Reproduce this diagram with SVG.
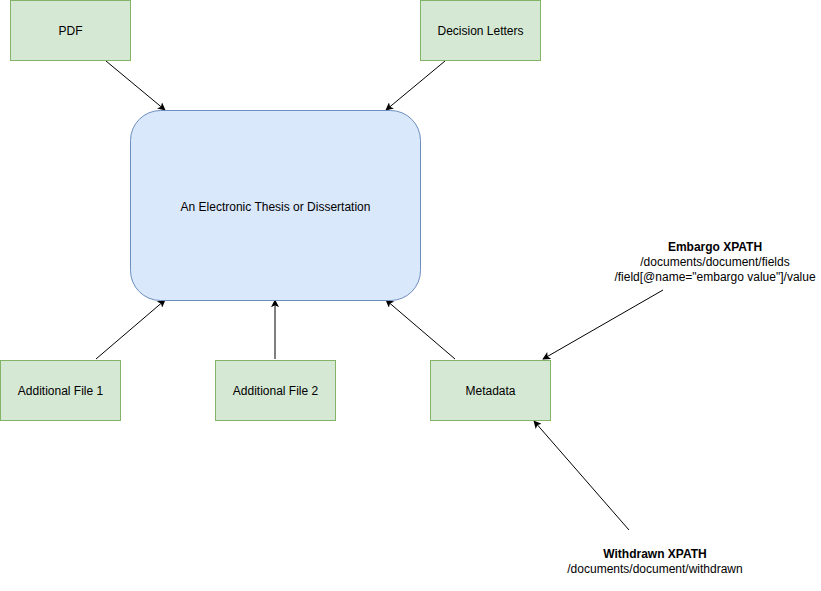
<svg xmlns="http://www.w3.org/2000/svg" width="821" height="591" viewBox="0 0 821 591">
<defs>
<style>
.g{fill:#d5e8d4;stroke:#82b366;stroke-width:1}
.b{fill:#dae8fc;stroke:#6c8ebf;stroke-width:1}
text{font-family:"Liberation Sans",Arial,sans-serif;font-size:12px;fill:#000;text-anchor:middle}
.bold{font-weight:bold}
.e{stroke:#000;stroke-width:1;fill:none;marker-end:url(#arr)}
</style>
<marker id="arr" viewBox="0 0 10 10" refX="9" refY="5" markerWidth="8" markerHeight="8" markerUnits="userSpaceOnUse" orient="auto">
<path d="M0,0 L10,5 L0,10 L2.5,5 Z" fill="#000"/>
</marker>
</defs>
<rect width="821" height="591" fill="#fff"/>
<g id="connectors">
<line class="e" x1="106" y1="61" x2="165" y2="110"/>
<line class="e" x1="445" y1="61" x2="386" y2="110"/>
<line class="e" x1="96" y1="359" x2="165" y2="300"/>
<line class="e" x1="275" y1="359" x2="275" y2="300"/>
<line class="e" x1="455" y1="359" x2="386" y2="300"/>
<line class="e" x1="663" y1="290" x2="543" y2="359"/>
<line class="e" x1="629" y1="530" x2="534" y2="421"/>
</g>
<g id="thesis">
<rect class="b" x="130.5" y="110.5" width="290" height="190" rx="30" ry="30"/>
<text x="275.5" y="211">An Electronic Thesis or Dissertation</text>
</g>
<g id="pdf">
<rect class="g" x="10.5" y="0.5" width="120" height="60"/>
<text x="70.5" y="35">PDF</text>
</g>
<g id="decision">
<rect class="g" x="420.5" y="0.5" width="120" height="60"/>
<text x="480.5" y="35">Decision Letters</text>
</g>
<g id="af1">
<rect class="g" x="0.5" y="360.5" width="120" height="60"/>
<text x="60.5" y="395">Additional File 1</text>
</g>
<g id="af2">
<rect class="g" x="215.5" y="360.5" width="120" height="60"/>
<text x="275.5" y="395">Additional File 2</text>
</g>
<g id="metadata">
<rect class="g" x="430.5" y="360.5" width="120" height="60"/>
<text x="490.5" y="395">Metadata</text>
</g>
<g id="embargo">
<text class="bold" x="715" y="251">Embargo XPATH</text>
<text x="715" y="266">/documents/document/fields</text>
<text x="715" y="281">/field[@name="embargo value"]/value</text>
</g>
<g id="withdrawn">
<text class="bold" x="655" y="558">Withdrawn XPATH</text>
<text x="655" y="573">/documents/document/withdrawn</text>
</g>
</svg>
